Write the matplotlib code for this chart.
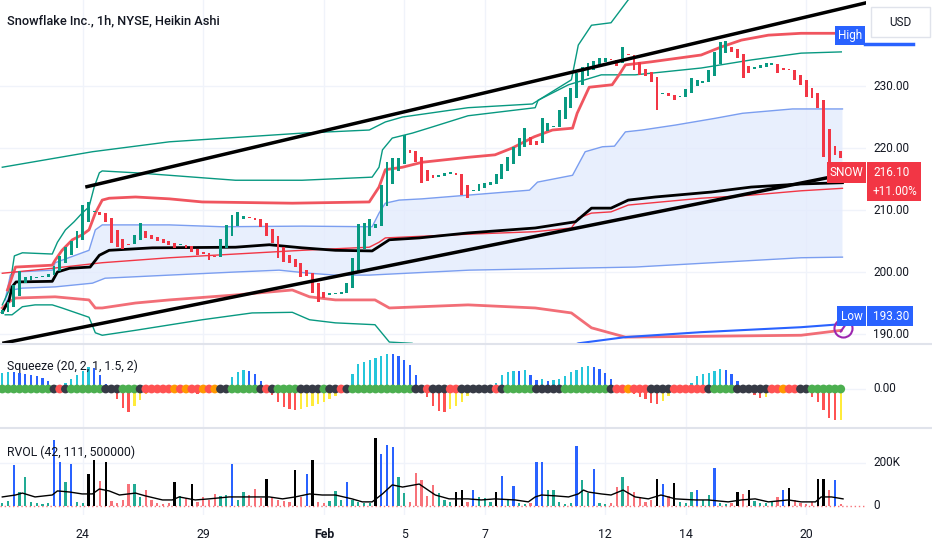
import matplotlib
matplotlib.use("Agg")
import matplotlib.pyplot as plt
import matplotlib.transforms as mtrans
from matplotlib.patches import Rectangle
import numpy as np

plt.rcParams['font.family'] = ['Roboto', 'DejaVu Sans']

# ---------------- data ----------------
# Heikin Ashi closes, one per hourly bar (7 bars per trading day)
ha_close = [193.9, 195.2, 197.9, 200.2, 199.2, 199.4, 199.2, 199.4, 199.7, 201.0,
            202.6, 204.0, 205.0, 206.6, 210.8, 211.3, 209.7, 209.2, 208.1, 204.7,
            204.0, 203.7, 204.4, 206.0, 207.9, 205.5, 205.3, 205.0, 204.7, 204.4,
            203.9, 204.4, 203.9, 203.2, 202.7, 202.9, 201.9, 202.4, 205.3, 207.6,
            209.2, 209.7, 209.0, 208.7, 208.4, 207.3, 205.8, 204.7, 202.3, 201.6,
            201.5, 200.8, 199.2, 199.4, 196.6, 195.2, 195.8, 196.6, 196.6, 196.8,
            198.2, 202.3, 207.7, 207.9, 208.5, 207.7, 214.0, 217.7, 218.4, 218.4,
            222.1, 219.2, 217.7, 214.4, 214.7, 215.2, 215.6, 216.0, 216.1, 215.6,
            212.4, 211.9, 213.1, 214.2, 214.4, 214.5, 215.8, 217.4, 218.5, 220.2,
            221.6, 223.2, 220.5, 220.5, 224.8, 224.0, 223.4, 226.1, 228.2, 229.7,
            232.1, 233.1, 233.7, 234.0, 234.5, 234.5, 234.2, 233.2, 236.3, 235.0,
            232.6, 231.8, 231.6, 230.6, 226.1, 228.9, 228.4, 227.7, 228.2, 229.5,
            231.3, 231.0, 230.8, 232.6, 235.5, 237.1, 237.3, 235.5, 234.5, 231.3,
            232.1, 233.1, 233.4, 233.7, 233.7, 232.1, 232.6, 232.6, 231.0, 230.2,
            228.2, 228.1, 226.5, 218.5, 217.4, 218.9, 218.4]
first_open = 193.3

# band lines as (bar, price) vertices
green_up_x = [0, 15.7, 29.1, 52.2, 63.9, 66.7, 69.7, 81.1, 92.3, 96.3, 99.1, 100.3, 102.6, 106.0, 109.0, 115, 146.3]
green_up_y = [216.9, 219.4, 221.0, 222.4, 222.9, 224.2, 225.0, 226.5, 227.1, 229.4, 231.0, 236.6, 239.8, 240.2, 243.9, 247.0, 248.0]

green_in_x = [0, 1.2, 2.1, 3.5, 8.7, 9.6, 11.0, 12.5, 13.9, 15.1, 16.0, 16.9, 17.4, 23.2, 29.1, 34.8, 40.6,
              52.2, 64.4, 65.6, 66.2, 67.9, 71.4, 74.9, 81.1, 92.8, 93.3, 98.6, 104.3, 110.2, 121.7, 130.4, 139.1, 146.1]
green_in_y = [194.7, 197.1, 202.6, 203.1, 202.9, 204.8, 206.8, 208.1, 209.5, 210.5, 213.7, 216.0, 216.3, 216.0, 215.6, 215.2, 214.8,
              214.8, 215.3, 216.9, 219.7, 221.6, 222.4, 223.4, 225.2, 226.5, 227.7, 230.2, 231.8, 231.8, 232.9, 234.2, 235.3, 235.5]

green_lo_x = [0.5, 1.7, 3.5, 5.7, 8.7, 10.4, 15.1, 16.2, 17.4, 23.2, 34.8, 43.5, 50.5, 53.5, 58.0, 64.9, 67.4, 71.4, 74.9, 146.3]
green_lo_y = [193.1, 193.1, 194.4, 194.7, 194.7, 194.2, 192.7, 190.2, 189.8, 190.6, 192.3, 193.4, 193.5, 192.3, 191.8, 191.5, 188.7, 188.5, 185.8, 184.2]

red_up_x = [0.9, 2.3, 8.7, 9.2, 10.4, 12.2, 13.9, 15.1, 16.2, 17.4, 18.6, 23.2, 29.1, 34.8, 50.5, 63.9, 65.6, 66.7, 69.7,
            73.1, 81.1, 85.8, 88.8, 92.6, 95.8, 99.3, 100.1, 102.2, 106.2, 107.4, 108.5, 113.0, 121.7, 125.2, 128.7, 133.4, 139.1, 146.3]
red_up_y = [197.1, 200.8, 201.1, 201.9, 203.5, 205.2, 206.0, 206.8, 209.5, 211.6, 211.9, 212.1, 211.8, 211.3, 211.1, 211.3, 213.7, 216.5, 216.9,
            217.7, 218.5, 218.9, 220.0, 221.8, 222.9, 223.2, 225.6, 229.8, 230.2, 231.8, 233.4, 233.9, 235.0, 236.3, 237.4, 238.2, 238.5, 238.5]

red_mid_x = [0, 8.7, 17.4, 29.1, 40.6, 52.2, 63.9, 65.6, 66.7, 81.1, 92.8, 99.1, 100.3, 102.6, 106.0, 109.0, 121.7, 130.4, 139.1, 146.3]
red_mid_y = [199.8, 200.6, 201.5, 202.3, 202.9, 203.5, 204.0, 204.8, 205.5, 206.1, 206.5, 207.1, 208.7, 209.5, 209.7, 210.8, 211.9, 212.4, 213.1, 213.5]

red_lo_x = [0, 1.2, 2.3, 9.2, 15.1, 16.2, 17.4, 23.2, 29.1, 40.6, 50.5, 53.5, 58.0, 64.9, 67.4, 81.1, 92.8, 99.1, 102.6, 108.5, 139.1, 146.1]
red_lo_y = [194.2, 195.2, 195.8, 196.0, 195.5, 194.2, 194.2, 195.0, 195.5, 196.3, 197.1, 196.0, 195.5, 195.5, 194.2, 194.7, 194.2, 193.4, 191.0, 189.5, 189.8, 190.6]

vwap_x = [0, 1.2, 1.7, 2.4, 8.7, 9.6, 11.7, 15.3, 16.9, 18.6, 26.1, 40.6, 46.5, 52.2, 58.0, 64.4, 67.4, 72.6,
          81.1, 92.8, 99.8, 102.6, 106.0, 109.0, 113.7, 123.5, 130.4, 139.1, 146.3]
vwap_y = [193.5, 195.5, 197.6, 198.4, 198.5, 200.0, 200.6, 200.8, 202.7, 203.5, 203.9, 204.0, 204.4, 203.9, 203.5, 203.4, 205.2, 205.5,
          206.3, 207.1, 208.1, 210.3, 210.3, 211.6, 212.1, 212.9, 213.7, 214.2, 214.4]

blue_up_x = [0.5, 1.4, 2.3, 8.7, 9.2, 15.1, 16.2, 17.4, 29.1, 38.3, 52.2, 64.4, 65.6, 66.7, 69.1, 73.1, 81.1, 91.8, 93.2,
             99.3, 101.5, 104.5, 106.6, 108.5, 111.4, 117.2, 124.2, 128.9, 137.6, 146.3]
blue_up_y = [195.5, 199.5, 200.0, 200.3, 201.5, 203.5, 206.8, 207.6, 207.6, 207.3, 207.4, 207.3, 209.5, 211.1, 211.6, 211.8, 212.4, 213.2, 214.5,
             215.6, 219.4, 220.2, 220.3, 222.6, 222.9, 223.7, 224.8, 225.6, 226.3, 226.3]

blue_lo_x = [0.5, 1.7, 3.5, 9.2, 15.7, 17.9, 29.1, 40.6, 48.2, 53.5, 58.0, 63.9, 81.3, 110.2, 139.1, 146.3]
blue_lo_y = [194.7, 197.1, 197.4, 197.6, 198.2, 199.0, 199.5, 200.0, 200.3, 199.8, 199.5, 199.5, 200.3, 200.8, 202.3, 202.4]

low_line_x = [97.5, 100.3, 108.5, 121.7, 139.1, 146.3]
low_line_y = [187.4, 188.5, 189.5, 190.3, 191.1, 191.6]

trend_up_x = [14.45, 150.8]
trend_up_y = [213.7, 243.5]
trend_lo_x = [0, 144.2]
trend_lo_y = [188.5, 215.3]

price_ticks = [230, 220, 210, 200, 190]
last_price = 216.10
last_change = '+11.00%'
high_price = 238.2
low_price = 192.9
low_label = 193.30

# squeeze momentum histogram (arbitrary units) and squeeze state dots
squeeze = [16, 17, 17, 16, 15, 14, 13, 11, 8, 1, 0.5, 6, 10, 14, 18, 22, 21, 14, 5, -2,
           -10, -19, -23, -17, -11, -5, -1, -1, -2, -3, -4, -4, -3, -4, -5, -4, -3, -2, -1, 4,
           12, 17, 19, 18, 15, 8, -1, -6, -13, -18, -20, -21, -20, -18, -17, -15, -13, -10, -7, -3,
           -1, 15, 25, 27, 29, 31, 33, 35, 35, 33, 29, 24, 14, 3, -8, -17, -22, -23, -20, -17,
           -13, -7, -3, -1, 0.5, 1, 6, 14, 17, 18, 18, 19, 14, 9, 10, 8, 9, 10, 13, 17,
           19, 22, 23, 22, 20, 16, 10, -2, -3, -4, -5, -8, -10, -14, -15, -12, -7, -3, 0.5, 2,
           6, 13, 15, 16, 18, 20, 19, 15, 8, 1, -1, -6, -9, -8, -3, -1, -1, -0.5, -1, -2,
           -4, -8, -13, -21, -29, -31, -31]
state_runs = [('g', 9), ('k', 1), ('r', 1), ('k', 1), ('g', 6), ('k', 3), ('g', 3), ('k', 1), ('r', 5), ('o', 1),
              ('r', 1), ('o', 1), ('r', 2), ('o', 1), ('r', 1), ('o', 1), ('k', 2), ('g', 5), ('k', 1), ('r', 1),
              ('k', 1), ('g', 4), ('k', 4), ('g', 1), ('k', 2), ('r', 1), ('k', 1), ('g', 11), ('k', 2), ('r', 1),
              ('k', 3), ('r', 2), ('k', 6), ('r', 1), ('k', 1), ('g', 5), ('k', 5), ('g', 8), ('k', 1), ('r', 2),
              ('o', 1), ('r', 3), ('k', 4), ('r', 6), ('k', 1), ('g', 4), ('k', 6), ('r', 2), ('o', 1), ('r', 2),
              ('k', 2), ('g', 6)]

# relative volume (thousands of shares)
volume_k = [15, 25, 190, 65, 135, 20, 12, 10, 15, 307, 205, 110, 195, 20, 15, 150, 215, 115, 205, 25,
            15, 30, 100, 100, 40, 75, 30, 15, 10, 12, 110, 45, 35, 100, 20, 40, 30, 55, 45, 50,
            195, 30, 65, 50, 80, 35, 125, 40, 30, 25, 20, 165, 40, 150, 215, 20, 15, 25, 70, 30,
            110, 30, 20, 15, 12, 315, 240, 285, 275, 135, 60, 20, 155, 120, 45, 98, 60, 30, 20, 65,
            75, 20, 75, 40, 35, 20, 65, 140, 30, 95, 15, 10, 12, 205, 205, 75, 75, 20, 10, 12,
            280, 120, 60, 170, 15, 10, 12, 90, 135, 95, 65, 40, 20, 30, 125, 100, 45, 107, 20, 15,
            65, 75, 30, 50, 175, 15, 10, 12, 65, 55, 75, 25, 15, 12, 20, 40, 75, 85, 30, 15,
            10, 20, 125, 125, 75, 120, 10]
blue_vol_bars = [2, 9, 10, 12, 40, 53, 60, 66, 67, 68, 82, 87, 89, 93, 94, 100, 103, 115, 121, 124, 136, 145]
black_vol_bars = [15, 16, 18, 30, 33, 46, 51, 54, 65, 79, 80, 86, 114, 117, 128, 130, 137, 142, 143]
avg_vol_x = [0, 2.3, 3.5, 5.7, 8.7, 9.6, 11.7, 13.9, 15.7, 16.9, 18.6, 20.4, 23.2, 24.9, 27.9, 29.6, 30.8, 33.6,
             36.0, 39.5, 41.8, 46.5, 48.8, 51.0, 53.5, 55.7, 58.0, 60.9, 62.7, 64.4, 66.2, 67.9, 69.7, 72.6,
             75.4, 77.8, 81.1, 83.4, 85.8, 89.3, 91.6, 92.8, 93.9, 96.3, 98.6, 100.3, 101.2, 102.0, 104.3,
             106.0, 108.1, 110.2, 112.5, 114.7, 117.2, 120.7, 122.9, 126.4, 128.7, 131.1, 133.4, 136.9,
             139.1, 141.6, 142.6, 144.4, 146.4]
avg_vol_k = [42, 51, 60, 42, 51, 70, 65, 56, 56, 79, 70, 51, 60, 47, 28, 28, 42, 28,
             33, 42, 42, 42, 33, 42, 56, 51, 51, 33, 19, 19, 56, 98, 88, 102,
             51, 33, 33, 28, 33, 28, 19, 42, 51, 47, 42, 56, 74, 65, 56,
             51, 74, 42, 33, 51, 33, 28, 28, 19, 28, 33, 19, 28,
             19, 19, 42, 42, 33]

date_bars = [14, 35, 56, 70, 84, 105, 119, 140]
date_labels = ['24', '29', 'Feb', '5', '7', '12', '14', '20']

# ---------------- figure ----------------
W, H = 932, 550
fig = plt.figure(figsize=(W / 100, H / 100), dpi=100)
fig.patch.set_facecolor('white')

PLOT_R = 866
ax = fig.add_axes([0, 1 - 344 / H, PLOT_R / W, 344 / H])
ax_sq = fig.add_axes([0, 1 - 428 / H, PLOT_R / W, 83 / H])
ax_rv = fig.add_axes([0, 1 - 515 / H, PLOT_R / W, 86 / H])

TXT = '#131722'
GRID = '#f0f3fa'
GREEN = '#089981'
RED = '#f23645'
BLUE = '#2962ff'

for a in (ax, ax_sq, ax_rv):
    a.set_xlim(-0.4, 150.4)
    for s in a.spines.values():
        s.set_visible(False)
    a.set_xticks([])
    a.set_yticks([])
    for b in date_bars:
        a.axvline(b, color=GRID, lw=1, zorder=0)

# ---- main price panel ----
ax.set_ylim(188.39, 243.87)
for p in price_ticks:
    ax.axhline(p, color=GRID, lw=1, zorder=0)

ax.fill(np.r_[blue_up_x, blue_lo_x[::-1]], np.r_[blue_up_y, blue_lo_y[::-1]],
        color='#e3ebfd', alpha=0.8, lw=0, zorder=1)
ax.plot(blue_up_x, blue_up_y, color='#7b9ef0', lw=1, zorder=2)
ax.plot(blue_lo_x, blue_lo_y, color='#7b9ef0', lw=1, zorder=2)
ax.plot(green_up_x, green_up_y, color=GREEN, lw=1, zorder=2)
ax.plot(green_in_x, green_in_y, color=GREEN, lw=1, zorder=2)
ax.plot(green_lo_x, green_lo_y, color=GREEN, lw=1, zorder=2)
ax.plot(red_up_x, red_up_y, color='#f0555f', lw=2, zorder=2)
ax.plot(red_lo_x, red_lo_y, color='#f0555f', lw=2, alpha=0.85, zorder=2)
ax.plot(red_mid_x, red_mid_y, color=RED, lw=1, zorder=2)
ax.plot(low_line_x, low_line_y, color=BLUE, lw=1.5, zorder=2)
ax.plot(vwap_x, vwap_y, color='black', lw=2, zorder=2)

closes = np.array(ha_close)
N = len(closes)
opens = np.empty(N)
opens[0] = first_open
for i in range(1, N):
    opens[i] = (opens[i - 1] + closes[i - 1]) / 2
xs = np.arange(N)
up = closes >= opens
body_lo = np.minimum(opens, closes)
body_h = np.maximum(np.abs(closes - opens), 0.18)
ax.bar(xs, body_h, bottom=body_lo, width=0.5,
       color=np.where(up, GREEN, RED), lw=0, zorder=3)

ax.plot(trend_up_x, trend_up_y, color='black', lw=2.5, zorder=4, solid_capstyle='butt')
ax.plot(trend_lo_x, trend_lo_y, color='black', lw=2.5, zorder=4, solid_capstyle='butt')

# purple alert icon near the low line
ax.plot([146.4], [191.0], marker='o', ms=13, mfc='none', mec='#9c27b0', mew=1.5,
        clip_on=False, zorder=5)
ax.plot([146.0, 146.9], [190.4, 191.6], color='#9c27b0', lw=1.5, clip_on=False, zorder=5)

ytrans = mtrans.blended_transform_factory(ax.transAxes, ax.transData)
for p in price_ticks:
    ax.text(873 / PLOT_R, p, f'{p:.2f}', transform=ytrans, ha='left', va='center',
            fontsize=8.5, color=TXT, clip_on=False)

fig.text(7 / W, 1 - 21 / H, 'Snowflake Inc., 1h, NYSE, Heikin Ashi', fontsize=9.2,
         color=TXT, va='center', ha='left', fontweight='medium')


def fig_box(x0, y0, x1, y1, fc, ec=None, lw=0):
    fig.patches.append(Rectangle((x0 / W, 1 - y1 / H), (x1 - x0) / W, (y1 - y0) / H,
                                 transform=fig.transFigure, facecolor=fc,
                                 edgecolor=ec if ec else fc, lw=lw, zorder=10))


def ypix(price):
    return 86 + (230 - price) * 6.2


# USD box
fig_box(871, 7, 930, 37, 'white', ec='#e0e3eb', lw=1)
fig.text(900 / W, 1 - 22 / H, 'USD', fontsize=8.5, color=TXT, ha='center', va='center', zorder=11)

# High label
yh = ypix(high_price)
fig_box(835, yh - 9, 865, yh + 10, BLUE)
fig.text(850 / W, 1 - yh / H, 'High', fontsize=8.5, color='white', ha='center', va='center', zorder=11)
fig.lines.append(plt.Line2D([865 / W, 913 / W], [1 - 44 / H, 1 - 44 / H], color=BLUE, lw=2.5,
                            transform=fig.transFigure))

# last price label
yl = ypix(last_price)
fig_box(827, yl - 10, 866, yl + 11, RED)
fig.text(846.5 / W, 1 - yl / H, 'SNOW', fontsize=8.5, color='white', ha='center', va='center', zorder=11)
fig_box(867, yl - 10, 921, yl + 29, RED)
fig.text(873 / W, 1 - yl / H, f'{last_price:.2f}', fontsize=8.5, color='white', ha='left', va='center', zorder=11)
fig.text(873 / W, 1 - (yl + 19) / H, last_change, fontsize=8.5, color='white', ha='left', va='center', zorder=11)

# Low label
ylo = ypix(low_price)
fig_box(837, ylo - 10, 866, ylo + 10, BLUE)
fig.text(851.5 / W, 1 - ylo / H, 'Low', fontsize=8.5, color='white', ha='center', va='center', zorder=11)
fig_box(867, ylo - 10, 913, ylo + 10, BLUE)
fig.text(873 / W, 1 - ylo / H, f'{low_label:.2f}', fontsize=8.5, color='white', ha='left', va='center', zorder=11)

# ---- squeeze panel ----
sq = np.array(squeeze, dtype=float)
ax_sq.set_ylim(-39, 44)
ax_sq.axhline(0, color=GRID, lw=1, zorder=0)
prev = np.r_[sq[0] - 1, sq[:-1]]
sq_colors = np.where(sq >= 0,
                     np.where(sq > prev, '#26c6da', BLUE),
                     np.where(sq < prev, '#ff5252', '#ffeb3b'))
ax_sq.bar(xs, sq, width=0.4, color=sq_colors, lw=0, zorder=2)
states = ''.join(c * n for c, n in state_runs)
dot_colors = {'g': '#4caf50', 'k': '#363a45', 'r': '#ff5252', 'o': '#ff9800'}
ax_sq.scatter(xs, np.zeros(N), s=40, c=[dot_colors[c] for c in states], lw=0, zorder=3)
sqtrans = mtrans.blended_transform_factory(ax_sq.transAxes, ax_sq.transData)
ax_sq.text(873 / PLOT_R, 0, '0.00', transform=sqtrans, ha='left', va='center',
           fontsize=8.5, color=TXT, clip_on=False)
fig.text(7 / W, 1 - 366 / H, 'Squeeze (20, 2, 1, 1.5, 2)', fontsize=8.8, color=TXT, va='center')

# ---- RVOL panel ----
vol = np.array(volume_k, dtype=float)
ax_rv.set_ylim(-42, 358)
ax_rv.axhline(200, color=GRID, lw=1, zorder=0)
vol_colors = np.where(up, '#22ab94', '#f7737a').astype(object)
vol_colors[blue_vol_bars] = BLUE
vol_colors[black_vol_bars] = 'black'
ax_rv.bar(xs, vol, width=0.4, color=list(vol_colors), lw=0, zorder=2)
ax_rv.plot([-0.4, 150.4], [0, 0], color='#f7737a', lw=1, ls=(0, (1, 2)), zorder=1)
ax_rv.plot(avg_vol_x, avg_vol_k, color='black', lw=1, zorder=3)
rvtrans = mtrans.blended_transform_factory(ax_rv.transAxes, ax_rv.transData)
ax_rv.text(873 / PLOT_R, 200, '200K', transform=rvtrans, ha='left', va='center',
           fontsize=8.5, color=TXT, clip_on=False)
ax_rv.text(873 / PLOT_R, 0, '0', transform=rvtrans, ha='left', va='center',
           fontsize=8.5, color=TXT, clip_on=False)
fig.text(7 / W, 1 - 452 / H, 'RVOL (42, 111, 500000)', fontsize=8.8, color=TXT, va='center')

# panel separators
for yp in (344, 428):
    fig.lines.append(plt.Line2D([0, 1], [1 - yp / H, 1 - yp / H], color='#e0e3eb', lw=1.5,
                                transform=fig.transFigure))

# date axis
dtrans = mtrans.blended_transform_factory(ax_rv.transData, fig.transFigure)
for b, lab in zip(date_bars, date_labels):
    ax_rv.text(b, 1 - 534 / H, lab, transform=dtrans, ha='center', va='center', fontsize=8.8,
               color=TXT, fontweight='bold' if lab == 'Feb' else 'normal', clip_on=False)

fig.savefig('out.png', dpi=100)
